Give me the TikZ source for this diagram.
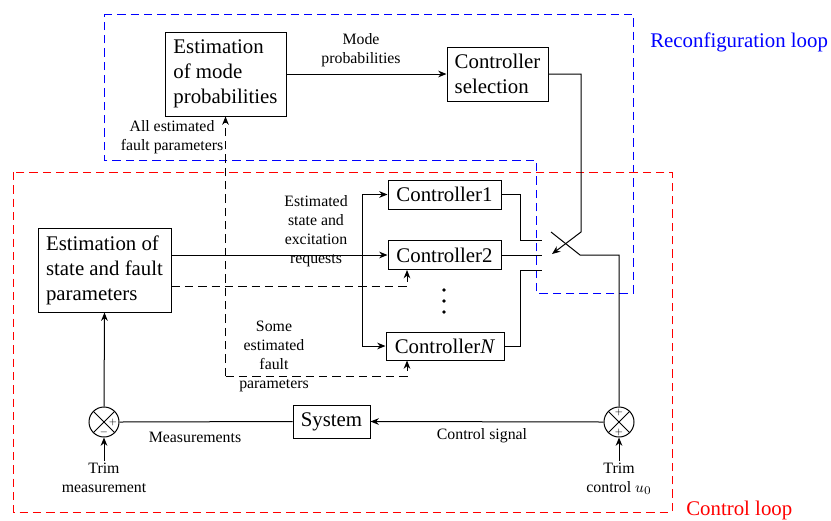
\documentclass[tikz,border=0pt]{standalone}
\usepackage{fontspec}
\setmainfont{Liberation Serif}
\usetikzlibrary{arrows.meta}
\newcommand{\blkfont}{\fontsize{12.5}{15}\selectfont}
\newcommand{\lblfont}{\fontsize{9.5}{11.4}\selectfont}
\tikzset{
  blk/.style={draw, semithick, font=\blkfont, align=left, inner sep=3pt},
  lbl/.style={font=\lblfont, align=center, inner sep=1pt},
  sumnode/.style={draw, semithick, circle, minimum size=18pt, inner sep=0pt,
    path picture={\draw[semithick] (path picture bounding box.north west) -- (path picture bounding box.south east)
      (path picture bounding box.south west) -- (path picture bounding box.north east);}},
  sgn/.style={font=\fontsize{5}{6}\selectfont, inner sep=0pt},
  wire/.style={semithick},
  sig/.style={semithick, -{Stealth[length=5pt,width=4pt]}},
  est/.style={semithick, dash pattern=on 5pt off 3pt},
  loopline/.style={semithick, dash pattern=on 5pt off 3pt},
}
\begin{document}
\begin{tikzpicture}[x=0.6pt,y=-0.6pt]
  \useasboundingbox (0,0) rectangle (831,520);
  % loops
  \draw[blue, loopline] (104,14) -- (633,14) -- (633,293) -- (536,293) -- (536,160) -- (104,160) -- cycle;
  \draw[red, loopline] (13,172) rectangle (672,512);
  \node[font=\blkfont, text=blue, anchor=west, inner sep=0pt] (rloop) at (650,42) {Reconfiguration loop};
  \node[font=\blkfont, text=red, anchor=west, inner sep=0pt] (cloop) at (686,510) {Control loop};
  % blocks
  \node[blk, minimum width=72.6pt, minimum height=50.4pt] (mode) at (225.5,74) {Estimation\\of mode\\probabilities};
  \node[blk, minimum width=60.6pt, minimum height=32.4pt] (sel) at (497.5,74) {Controller\\selection};
  \node[blk, minimum width=79.8pt, minimum height=50.4pt] (est) at (104.5,270) {Estimation of\\state and fault\\parameters};
  \node[blk, minimum width=67.8pt, minimum height=17.4pt] (ctrl1) at (444.5,194.5) {Controller1};
  \node[blk, minimum width=67.8pt, minimum height=17.4pt] (ctrl2) at (444.5,255) {Controller2};
  \node[blk, minimum width=70.8pt, minimum height=16.8pt] (ctrlN) at (445,346) {Controller\textit{N}};
  \node[blk, minimum width=46.2pt, minimum height=19.8pt] (sys) at (331.5,421.5) {System};
  \node[sumnode] (sumL) at (104,422) {};
  \node[sumnode] (sumR) at (619,422) {};
  \node[sgn] (pL) at (113,422) {$+$};
  \node[sgn] (mL) at (104,432) {$-$};
  \node[sgn] (pR1) at (619,412) {$+$};
  \node[sgn] (pR2) at (619,432) {$+$};
  \foreach \y in {290,301,312} \fill (444,\y) circle (1.1pt);
  % labels
  \node[lbl] (mp) at (361,50) {Mode\\probabilities};
  \node[lbl] (allf) at (172,137) {All estimated\\fault parameters};
  \node[lbl] (esr) at (316,231) {Estimated\\state and\\excitation\\requests};
  \node[lbl] (sef) at (274,356) {Some\\estimated\\fault\\parameters};
  \node[lbl] (meas) at (195,437) {Measurements};
  \node[lbl] (csig) at (482,436) {Control signal};
  \node[lbl, anchor=north] (trimM) at (104,461) {Trim\\measurement};
  \node[lbl, anchor=north] (trimC) at (619,461) {Trim\\control $u_0$};
  % signals
  \coordinate (br) at (362,255);
  \coordinate (fj) at (226,286);
  \coordinate (swtop) at (581,232);
  \coordinate (swarm) at (552,254);
  \draw[sig] (mode.east) -- (sel.west);
  \draw[sig] (est.east |- ctrl2.west) -- (ctrl2.west);
  \draw[sig] (br) |- (ctrl1.west);
  \draw[sig] (br) |- (ctrlN.west);
  \draw[est, -{Stealth[length=5pt,width=4pt]}] (est.east |- fj) -| (ctrl2.south -| 407,0);
  \draw[est, -{Stealth[length=5pt,width=4pt]}] (mode.south |- 0,376) -- (mode.south);
  \draw[est, -{Stealth[length=5pt,width=4pt]}] (mode.south |- 0,376) -| (ctrlN.south -| 407,0);
  % switch
  \draw[sig] (sel.east) -| (swtop) -- (swarm);
  \draw[wire] (ctrl1.east) -| (520,240) -- (542,240);
  \draw[wire] (ctrl2.east) -- (ctrl2.east -| 542,0);
  \draw[wire] (ctrlN.east) -| (520,270) -- (542,270);
  \draw[wire] (551,232) -- (580,255) -| (sumR.north);
  % loop back
  \draw[sig] (sumR.west) -- (sys.east);
  \draw[wire] (sys.west) -- (sumL.east);
  \draw[sig] (sumL.north) -- (est.south);
  \draw[sig] (trimM.north) -- (sumL.south);
  \draw[sig] (trimC.north) -- (sumR.south);
\end{tikzpicture}
\end{document}
